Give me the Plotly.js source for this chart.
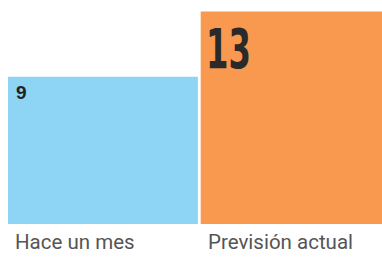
<!DOCTYPE html>
<html><head><meta charset="utf-8">
<script src="https://cdn.plot.ly/plotly-3.0.1.min.js"></script>
<style>
html,body{margin:0;padding:0;background:#fff;overflow:hidden;}
#chart{width:382px;height:258px;}
.annotation[data-index="3"] text{transform-box:fill-box;transform-origin:0 50%;transform:scaleX(0.64);}
</style>
</head><body>
<div id="chart"></div>
<script>
const categories = ["Hace un mes", "Previsión actual"];
const values = [9, 13];
const valueLabels = ["9", "13"];
const colors = ["#8ed4f5", "#f9984f"];
const widths = [1.0, 0.97];

const trace = {
  type: "bar",
  x: [0, 1],
  y: values,
  width: widths,
  marker: {color: colors, line: {width: 0}},
  hoverinfo: "none",
  cliponaxis: false
};

const annotations = [];
categories.forEach((c, i) => {
  annotations.push({
    x: i - widths[i] / 2, y: 0, xref: "x", yref: "y",
    text: c, showarrow: false, xanchor: "left", yanchor: "top",
    xshift: 5, yshift: -4,
    font: {family: "Roboto, 'Liberation Sans', sans-serif", size: 20.5, color: "#555"}
  });
});
annotations.push({
  x: 0 - widths[0] / 2, y: values[0], xref: "x", yref: "y",
  text: valueLabels[0], showarrow: false, xanchor: "left", yanchor: "top",
  xshift: 6, yshift: -3,
  font: {family: "'Liberation Sans', Arial, sans-serif", size: 19, color: "#222", weight: 700}
});
annotations.push({
  x: 1 - widths[1] / 2, y: values[1], xref: "x", yref: "y",
  text: valueLabels[1], showarrow: false, xanchor: "left", yanchor: "top",
  xshift: 3, yshift: -3,
  font: {family: "'Liberation Sans Narrow', 'DejaVu Sans Condensed', sans-serif", size: 56, color: "#2a2a2a", weight: 700}
});

const layout = {
  width: 382, height: 258,
  margin: {l: 8, r: 0, t: 0, b: 34, pad: 0},
  paper_bgcolor: "#fff", plot_bgcolor: "#fff",
  showlegend: false,
  xaxis: {visible: false, range: [-0.5, 1.47], fixedrange: true},
  yaxis: {visible: false, range: [0, 13.7], fixedrange: true},
  annotations: annotations
};

Plotly.newPlot("chart", [trace], layout, {staticPlot: true, displayModeBar: false});
</script>
</body></html>
